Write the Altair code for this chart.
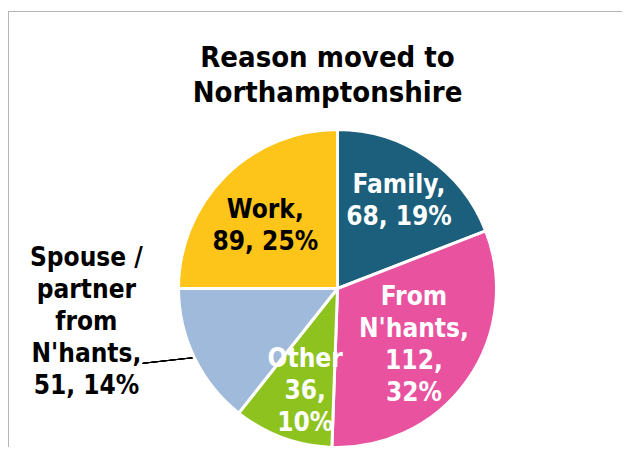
import altair as alt
import pandas as pd

# ---- data ----
reasons = ["Family", "From N'hants", "Other", "Spouse / partner from N'hants", "Work"]
counts = [68, 112, 36, 51, 89]
percents = [19, 32, 10, 14, 25]
label_text = [
    "Family,\n68, 19%",
    "From\nN'hants,\n112,\n32%",
    "Other\n36,\n10%",
    "Spouse /\npartner\nfrom\nN'hants,\n51, 14%",
    "Work,\n89, 25%",
]
colors = ["#1C5F7C", "#E8529F", "#8EC31F", "#A0BADB", "#FDC41A"]

df = pd.DataFrame({
    "reason": reasons,
    "count": counts,
    "percent": percents,
    "label": label_text,
    "order": list(range(len(reasons))),
})

FONT = "DejaVu Sans Condensed, DejaVu Sans, sans-serif"
W, H = 614, 439
CX, CY = 329.5, 280.5   # pie centre inside the view
R = 159
LH = 32

base = alt.Chart(df)

pie = base.mark_arc(outerRadius=R, stroke="white", strokeWidth=3).encode(
    theta=alt.Theta("count:Q", stack=True),
    order=alt.Order("order:Q"),
    color=alt.Color("reason:N", scale=alt.Scale(domain=reasons, range=colors), legend=None),
    x=alt.value(CX),
    y=alt.value(CY),
)

stacked = base.transform_stack(
    stack="count", groupby=[], as_=["s0", "s1"], sort=[alt.SortField("order")]
).transform_calculate(mid="(datum.s0 + datum.s1) / 2")

# per-label placement (radius from centre, nudges, line count) and text colour
label_style = [
    ("Family", 107, 1, 1, 2, "white"),
    ("From N'hants", 95, -1, 1, 4, "white"),
    ("Other", 108, 5, 1, 3, "white"),
    ("Spouse / partner from N'hants", 200, -71, -54, 5, "black"),
    ("Work", 95, -5, 5, 2, "black"),
]

layers = [pie]
for name, rad, ddx, ddy, nlines, col in label_style:
    layers.append(
        stacked.transform_filter(alt.datum.reason == name)
        .mark_text(
            radius=rad, dx=ddx, dy=ddy - (nlines - 1) * LH / 2, color=col, font=FONT,
            fontSize=26, fontWeight="bold", lineBreak="\n", lineHeight=LH,
            align="center", baseline="middle",
        )
        .encode(
            theta=alt.Theta("mid:Q", stack=None),
            text="label:N",
            x=alt.value(CX),
            y=alt.value(CY),
        )
    )

# leader line for the outside label
leader = base.mark_rule(color="black", strokeWidth=1).encode(
    x=alt.value(134.7), y=alt.value(355.3), x2=alt.value(185.3), y2=alt.value(349.7)
)
# chart-area frame (top and left edges visible)
frame_top = base.mark_rule(color="#B4B4B4", strokeWidth=1).encode(
    x=alt.value(0.5), x2=alt.value(W), y=alt.value(3.5)
)
frame_left = base.mark_rule(color="#B4B4B4", strokeWidth=1).encode(
    x=alt.value(0.5), y=alt.value(3.5), y2=alt.value(H)
)

chart = alt.layer(frame_top, frame_left, leader, *layers).properties(
    width=W,
    height=H,
    autosize=alt.AutoSizeParams(type="none"),
    padding=0,
    title=alt.TitleParams(
        text=["Reason moved to", "Northamptonshire"],
        font=FONT, fontSize=29, fontWeight="bold", color="black",
        lineHeight=35, anchor="middle", dx=12.5, baseline="top", offset=-100,
    ),
).configure_view(stroke=None)

chart.save("out.html", embed_options={"renderer": "svg", "actions": False})
